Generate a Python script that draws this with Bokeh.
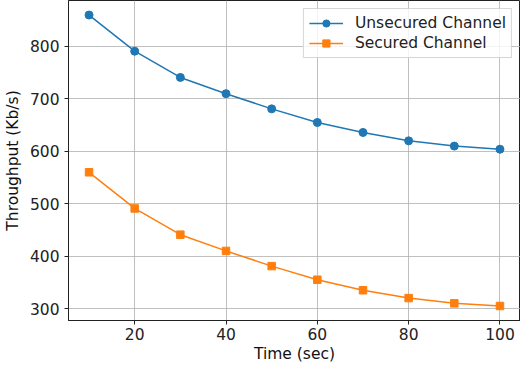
from bokeh.plotting import figure
from bokeh.models import Range1d, FixedTicker, Legend, LegendItem
from bokeh.embed import file_html
from bokeh.resources import INLINE

time_sec = [10, 20, 30, 40, 50, 60, 70, 80, 90, 100]
unsecured = [860, 791, 741, 710, 681, 655, 636, 620, 610, 604]
secured = [560, 491, 441, 410, 381, 355, 335, 320, 310, 305]
x_ticks = [20, 40, 60, 80, 100]
y_ticks = [300, 400, 500, 600, 700, 800]

FONT = "DejaVu Sans"
p = figure(frame_width=452, frame_height=320, output_backend="svg", toolbar_location=None,
           x_range=Range1d(5.5, 104.5), y_range=Range1d(277.25, 887.75),
           min_border_left=64, min_border_right=0, min_border_top=0, min_border_bottom=0)

p.outline_line_color = "#222222"
p.outline_line_width = 1
p.background_fill_color = "white"
p.border_fill_color = "white"

for ax in (p.xaxis[0], p.yaxis[0]):
    ax.major_label_text_font = FONT
    ax.major_label_text_font_size = "15.5px"
    ax.major_label_text_color = "#222222"
    ax.axis_label_text_font = FONT
    ax.axis_label_text_font_size = "15.5px"
    ax.axis_label_text_font_style = "normal"
    ax.axis_label_text_color = "#111111"
    ax.major_tick_in = 0
    ax.major_tick_out = 4
    ax.minor_tick_line_color = None
    ax.axis_line_color = "#222222"
    ax.major_tick_line_color = "#222222"

p.xaxis.ticker = FixedTicker(ticks=x_ticks)
p.yaxis.ticker = FixedTicker(ticks=y_ticks)
p.xaxis.axis_label = "Time (sec)"
p.yaxis.axis_label = "Throughput (Kb/s)"
p.xaxis.axis_label_standoff = 2
p.yaxis.axis_label_standoff = 5
p.xaxis.major_label_standoff = 3

p.grid.grid_line_color = "#b0b0b0"
p.grid.grid_line_alpha = 0.8
p.grid.grid_line_width = 1

blue = "#1f77b4"
orange = "#ff7f0e"
l1 = p.line(time_sec, unsecured, line_color=blue, line_width=1.5)
s1 = p.scatter(time_sec, unsecured, marker="circle", size=8, fill_color=blue, line_color=blue)
l2 = p.line(time_sec, secured, line_color=orange, line_width=1.5)
s2 = p.scatter(time_sec, secured, marker="square", size=7.5, fill_color=orange, line_color=orange)

legend = Legend(items=[
    LegendItem(label="Unsecured Channel", renderers=[l1, s1]),
    LegendItem(label="Secured Channel", renderers=[l2, s2]),
], location="top_right")
legend.label_text_font = FONT
legend.label_text_font_size = "15.5px"
legend.label_text_color = "#222222"
legend.border_line_color = "#cccccc"
legend.border_line_alpha = 0.8
legend.background_fill_alpha = 0.8
legend.glyph_width = 34
legend.glyph_height = 18
legend.spacing = 2
legend.padding = 5
legend.margin = 8
legend.label_standoff = 12
p.add_layout(legend)

open("out.html", "w").write(file_html(p, INLINE))
